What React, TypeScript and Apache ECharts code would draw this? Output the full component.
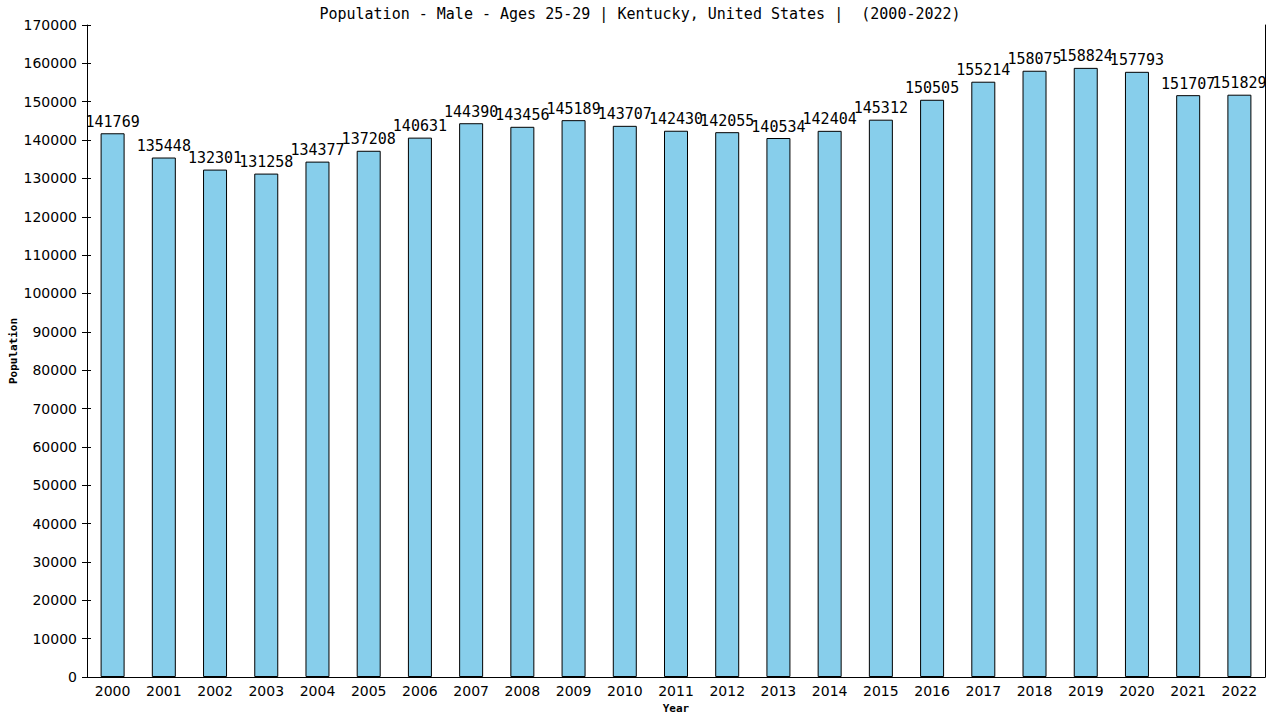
import React, { useEffect, useRef } from "react";
import * as echarts from "echarts";

const years = ["2000","2001","2002","2003","2004","2005","2006","2007","2008","2009","2010","2011","2012","2013","2014","2015","2016","2017","2018","2019","2020","2021","2022"];
const population = [141769,135448,132301,131258,134377,137208,140631,144390,143456,145189,143707,142430,142055,140534,142404,145312,150505,155214,158075,158824,157793,151707,151829];
const titleText = "Population - Male - Ages 25-29 | Kentucky, United States |  (2000-2022)";

export default function App() {
  const ref = useRef<HTMLDivElement>(null);
  useEffect(() => {
    document.body.style.margin = "0";
    const chart = echarts.init(ref.current!, null, { renderer: "svg" });
    const yBase = { type: "value", min: 0, max: 170000, interval: 10000, splitLine: { show: false } };
    chart.setOption({
      animation: false,
      backgroundColor: "#ffffff",
      title: {
        text: titleText,
        left: "center",
        top: 1,
        textStyle: { fontFamily: "DejaVu Sans Mono", fontSize: 15, fontWeight: "normal", color: "#000" },
      },
      grid: { left: 87, right: 15, top: 25, bottom: 43, containLabel: false, outerBoundsMode: "none" },
      xAxis: {
        type: "category",
        data: years,
        name: "Year",
        nameLocation: "middle",
        nameGap: 26,
        nameMoveOverlap: false,
        nameTextStyle: { fontFamily: "DejaVu Sans Mono", fontSize: 11, fontWeight: "bold", color: "#000" },
        axisLine: { lineStyle: { color: "#000", width: 1 } },
        axisTick: { show: false },
        axisLabel: { fontFamily: "DejaVu Sans", fontSize: 14, color: "#000", margin: 7 },
      },
      yAxis: [
        {
          ...yBase,
          position: "left",
          name: "Population",
          nameLocation: "middle",
          nameGap: 68,
          nameMoveOverlap: false,
          nameTextStyle: { fontFamily: "DejaVu Sans Mono", fontSize: 11, fontWeight: "bold", color: "#000" },
          axisLine: { show: true, lineStyle: { color: "#000", width: 1 } },
          axisTick: { show: true, inside: false, length: 5, lineStyle: { color: "#000" } },
          axisLabel: { fontFamily: "DejaVu Sans", fontSize: 14, color: "#000", margin: 10, formatter: (v: number) => String(v) },
        },
        {
          ...yBase,
          position: "left",
          axisLine: { show: false },
          axisTick: { show: true, inside: true, length: 4, lineStyle: { color: "#000" } },
          axisLabel: { show: false },
        },
        {
          ...yBase,
          position: "right",
          axisLine: { show: true, lineStyle: { color: "#000", width: 1 } },
          axisTick: { show: false },
          axisLabel: { show: false },
        },
      ],
      series: [
        {
          type: "bar",
          data: population,
          barWidth: 24,
          itemStyle: { color: "#87CEEB", borderColor: "#000", borderWidth: 1 },
          label: {
            show: true,
            position: "top",
            distance: 4,
            fontFamily: "DejaVu Sans Mono",
            fontSize: 15,
            color: "#000",
          },
        },
      ],
    });
    return () => chart.dispose();
  }, []);
  return <div ref={ref} style={{ position: "fixed", left: 0, top: 0, width: 1280, height: 720 }} />;
}
